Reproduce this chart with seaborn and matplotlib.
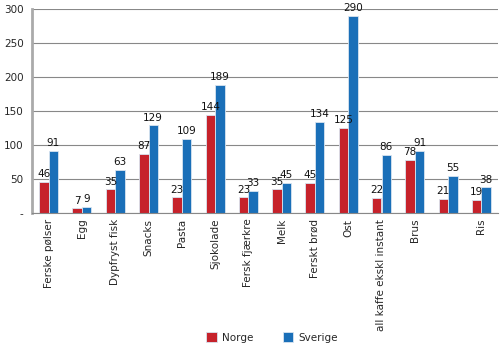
import matplotlib
matplotlib.use("Agg")
import matplotlib.pyplot as plt
import seaborn as sns
import pandas as pd
import numpy as np

categories = ["Ferske pølser", "Egg", "Dypfryst fisk", "Snacks", "Pasta", "Sjokolade",
              "Fersk fjærkre", "Melk", "Ferskt brød", "Ost", "all kaffe ekskl instant",
              "Brus", " ", "Ris"]
norge = [46, 7, 35, 87, 23, 144, 23, 35, 45, 125, 22, 78, 21, 19]
sverige = [91, 9, 63, 129, 109, 189, 33, 45, 134, 290, 86, 91, 55, 38]
series = ["Norge", "Sverige"]
colors = ["#c6222b", "#1a6fb8"]
yticks = [0, 50, 100, 150, 200, 250, 300]
ytick_labels = ["-", "50", "100", "150", "200", "250", "300"]

df = pd.DataFrame({
    "cat": categories * 2,
    "val": norge + sverige,
    "land": [series[0]] * len(categories) + [series[1]] * len(categories),
})

sns.set_style("white")
plt.rcParams["font.family"] = ["DejaVu Sans"]

fig = plt.figure(figsize=(5.0, 3.46), dpi=100)
ax = fig.add_axes([0.064, 0.384, 0.932, 0.59])

sns.barplot(data=df, x="cat", y="val", hue="land", palette=colors, ax=ax,
            width=0.57, gap=0, saturation=1, edgecolor="#d8e4f0", linewidth=0.6,
            legend=True)

for cont in ax.containers:
    ax.bar_label(cont, fontsize=7.5, padding=2, color="#111111")

ax.set_ylim(0, 300)
ax.set_xlim(-0.5, len(categories) - 0.5)
ax.set_yticks(yticks)
ax.set_yticklabels(ytick_labels, fontsize=7.5)
ax.yaxis.grid(True, color="#888888", linewidth=0.8)
ax.set_axisbelow(True)
ax.set_xlabel("")
ax.set_ylabel("")
ax.tick_params(axis="y", length=0, pad=6)
ax.set_xticks(range(len(categories)))
ax.set_xticklabels(categories, rotation=90, fontsize=7.5)
ax.tick_params(axis="x", length=0, pad=4)
ax.set_xticks(np.arange(-0.5, len(categories), 1), minor=True)
ax.tick_params(axis="x", which="minor", length=4, color="#888888", width=0.8)

for s in ["top", "right"]:
    ax.spines[s].set_visible(False)
ax.spines["left"].set_color("#aaaaaa")
ax.spines["left"].set_linewidth(2)
ax.spines["bottom"].set_color("#888888")
ax.spines["bottom"].set_linewidth(0.8)

handles, labels = ax.get_legend_handles_labels()
ax.legend(handles, labels, loc="lower center", bbox_to_anchor=(0.515, -0.68),
          ncol=2, frameon=False, fontsize=7.5, handlelength=1.0, handleheight=1.0,
          columnspacing=2.8, handletextpad=0.5)

fig.savefig("out.png", dpi=100)
